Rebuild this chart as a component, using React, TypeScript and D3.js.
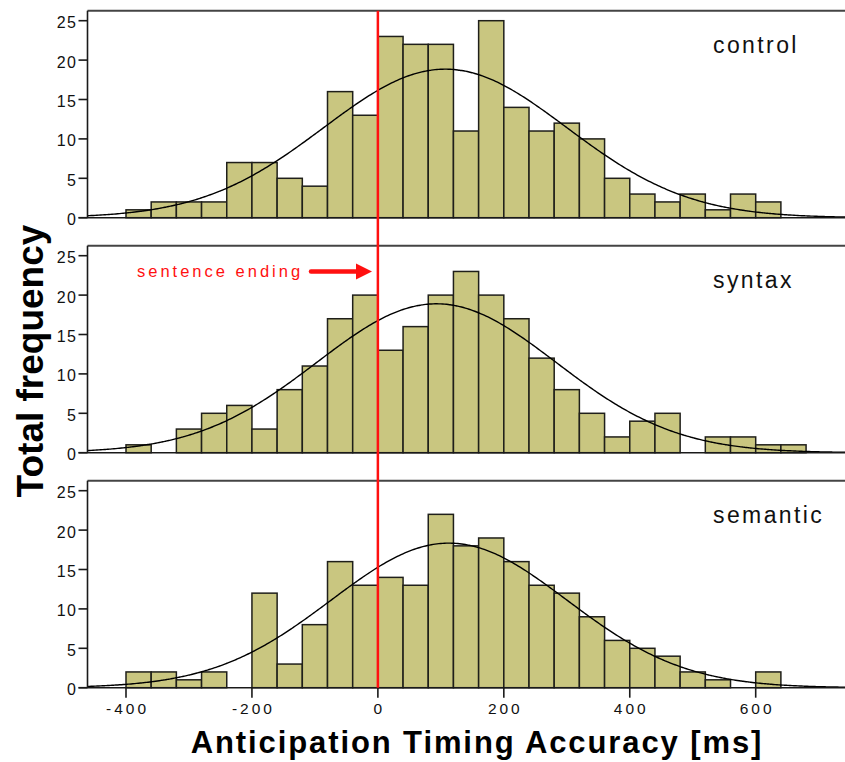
import React from "react";
import * as d3 from "d3";

// bin starts (ms), bin width 40
const binStarts = d3.range(-400, 680, 40);
const controlCounts = [1, 2, 2, 2, 7, 7, 5, 4, 16, 13, 23, 22, 22, 11, 25, 14, 11, 12, 10, 5, 3, 2, 3, 1, 3, 2, 0];
const syntaxCounts = [1, 0, 3, 5, 6, 3, 8, 11, 17, 20, 13, 16, 20, 23, 20, 17, 12, 8, 5, 2, 4, 5, 0, 2, 2, 1, 1];
const semanticCounts = [2, 2, 1, 2, 0, 12, 3, 8, 16, 13, 14, 13, 22, 18, 19, 16, 13, 12, 9, 6, 5, 4, 2, 1, 0, 2, 0];
const panelNames = ["control", "syntax", "semantic"];
const fitMeans = [107, 93, 113];
const fitSds = [193, 190, 187];
const yTicks = [0, 5, 10, 15, 20, 25];
const xTicks = [-400, -200, 0, 200, 400, 600];

const BIN = 40;
const W = 845;
const H = 762;
const LEFT = 87.5;
const FONT = "'Liberation Sans', Arial, Helvetica, sans-serif";

const x = d3.scaleLinear().domain([-400, 600]).range([126, 755.7]);
const xMin = x.invert(LEFT);
const xMax = x.invert(W);

function Panel({ idx, counts }: { idx: number; counts: number[] }) {
  const bottom = 217.7 + idx * 235;
  const top = bottom - 207;
  const y = d3.scaleLinear().domain([0, 25]).range([bottom, bottom - 197]);
  const n = d3.sum(counts);
  const mu = fitMeans[idx];
  const sd = fitSds[idx];
  const pts = d3.range(xMin, xMax + 1, 3).map((v) => {
    const dens = (n * BIN) / (sd * Math.sqrt(2 * Math.PI)) * Math.exp(-((v - mu) ** 2) / (2 * sd * sd));
    return [x(v), y(dens)] as [number, number];
  });
  const line = d3.line().curve(d3.curveBasis)(pts) || "";
  return (
    <g>
      {binStarts.map((b, i) =>
        counts[i] > 0 ? (
          <rect
            key={b}
            x={x(b)}
            y={y(counts[i])}
            width={x(b + BIN) - x(b)}
            height={y(0) - y(counts[i])}
            fill="#c9c680"
            stroke="#1f1f1a"
            strokeWidth={1.5}
          />
        ) : null
      )}
      <path d={line} fill="none" stroke="#000" strokeWidth={1.4} />
      <line x1={LEFT} x2={W} y1={top} y2={top} stroke="#444" strokeWidth={2} />
      <line x1={LEFT} x2={LEFT} y1={top} y2={bottom} stroke="#1a1a1a" strokeWidth={1.6} />
      <line x1={LEFT - 9} x2={W} y1={bottom} y2={bottom} stroke="#1a1a1a" strokeWidth={1.6} />
      {yTicks.map((t) => (
        <g key={t}>
          <line x1={LEFT - 9} x2={LEFT} y1={y(t)} y2={y(t)} stroke="#1a1a1a" strokeWidth={1.6} />
          <text
            x={LEFT - 10}
            y={y(t) + 7.5}
            textAnchor="end"
            fontFamily={FONT}
            fontSize={16}
            letterSpacing={1.5}
            fill="#111"
          >
            {t}
          </text>
        </g>
      ))}
      <text x={713} y={top + 42.5} fontFamily={FONT} fontSize={23} letterSpacing={2.4} fill="#111">
        {panelNames[idx]}
      </text>
    </g>
  );
}

export default function App() {
  const allCounts = [controlCounts, syntaxCounts, semanticCounts];
  const lastBottom = 217.7 + 2 * 235;
  return (
    <svg
      width={W}
      height={H}
      viewBox={`0 0 ${W} ${H}`}
      style={{ position: "absolute", left: 0, top: 0, display: "block", background: "#fff" }}
    >
      <rect width={W} height={H} fill="#fff" />
      {allCounts.map((c, i) => (
        <Panel key={i} idx={i} counts={c} />
      ))}
      {xTicks.map((t) => (
        <g key={t}>
          <line x1={x(t)} x2={x(t)} y1={lastBottom} y2={lastBottom + 10} stroke="#1a1a1a" strokeWidth={1.6} />
          <text
            x={x(t) + 1.5}
            y={714}
            textAnchor="middle"
            fontFamily={FONT}
            fontSize={15.5}
            letterSpacing={3}
            fill="#111"
          >
            {t}
          </text>
        </g>
      ))}
      <line x1={x(0)} x2={x(0)} y1={10.7} y2={lastBottom} stroke="#ff1010" strokeWidth={2.5} />
      <text x={137} y={277} fontFamily={FONT} fontSize={16.5} letterSpacing={3} fill="#ff1010">
        sentence ending
      </text>
      <line x1={311} x2={358} y1={271.5} y2={271.5} stroke="#ff1010" strokeWidth={4.5} strokeLinecap="round" />
      <path d="M356,263.5 L372,271.5 L356,279.5 Z" fill="#ff1010" />
      <text
        transform="translate(43,361) rotate(-90)"
        textAnchor="middle"
        fontFamily={FONT}
        fontWeight="bold"
        fontSize={37}
        fill="#000"
      >
        Total frequency
      </text>
      <text
        x={477}
        y={753}
        textAnchor="middle"
        fontFamily={FONT}
        fontWeight="bold"
        fontSize={31}
        letterSpacing={1.9}
        fill="#000"
      >
        Anticipation Timing Accuracy [ms]
      </text>
    </svg>
  );
}
